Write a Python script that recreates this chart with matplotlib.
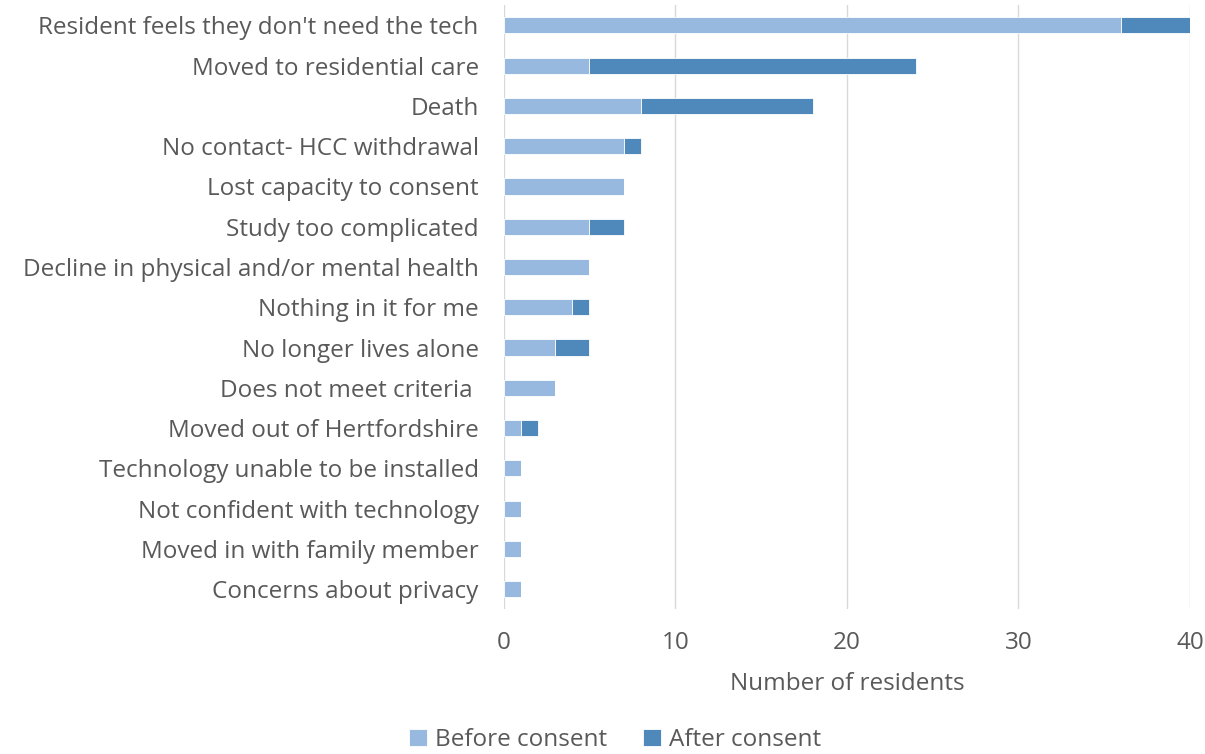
import numpy as np
import matplotlib.pyplot as plt

# reasons for withdrawal, top to bottom as shown
reasons = [
    "Resident feels they don't need the tech",
    "Moved to residential care",
    "Death",
    "No contact- HCC withdrawal",
    "Lost capacity to consent",
    "Study too complicated",
    "Decline in physical and/or mental health",
    "Nothing in it for me",
    "No longer lives alone",
    "Does not meet criteria ",
    "Moved out of Hertfordshire",
    "Technology unable to be installed",
    "Not confident with technology",
    "Moved in with family member",
    "Concerns about privacy",
]
before_consent = [36, 5, 8, 7, 7, 5, 5, 4, 3, 3, 1, 1, 1, 1, 1]
after_consent = [4, 19, 10, 1, 0, 2, 0, 1, 2, 0, 1, 0, 0, 0, 0]

c_before = '#97B9E0'
c_after = '#4F89BC'
txt = '#595959'
fs = 17.5

plt.rcParams['font.family'] = ['Open Sans', 'DejaVu Sans']

fig = plt.figure(figsize=(12.05, 7.54), dpi=100)
ax = fig.add_axes([0.418, 0.192, 0.5696, 0.801])

y = np.arange(len(reasons))
ax.barh(y, before_consent, height=0.4, color=c_before, edgecolor='white', lw=0.6,
        label='Before consent', zorder=3)
ax.barh(y, after_consent, left=before_consent, height=0.4, color=c_after,
        edgecolor='white', lw=0.6, label='After consent', zorder=3)

ax.set_ylim(len(reasons) - 0.5, -0.5)
ax.set_xlim(0, 40)
ax.set_xticks([0, 10, 20, 30, 40])
ax.set_yticks(y)
ax.set_yticklabels(reasons)
ax.grid(axis='x', color='#D9D9D9', lw=1, zorder=0)
for s in ax.spines.values():
    s.set_visible(False)
ax.tick_params(axis='both', length=0, labelsize=fs, colors=txt)
ax.tick_params(axis='x', pad=16)
ax.tick_params(axis='y', pad=18)
ax.set_xlabel('Number of residents', fontsize=fs, color=txt, labelpad=12)

ax.legend(loc='center', bbox_to_anchor=(615 / 1205, 14 / 754), bbox_transform=fig.transFigure,
          ncol=2, frameon=False, fontsize=fs, labelcolor=txt,
          handlelength=0.75, handleheight=0.75, handletextpad=0.3, columnspacing=1.5)

fig.savefig('out.png', dpi=100)
